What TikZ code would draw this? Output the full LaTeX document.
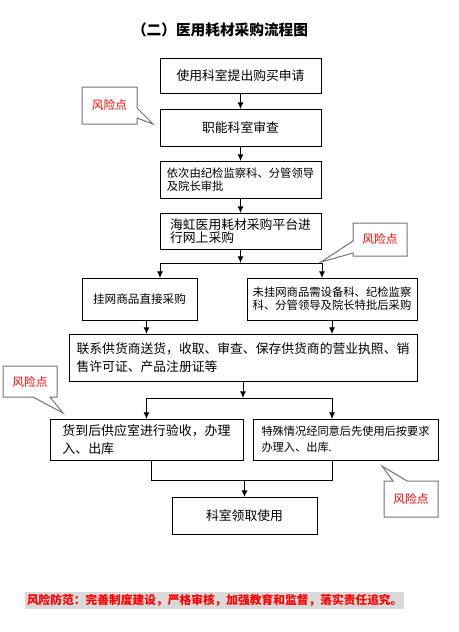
\documentclass[tikz,border=0pt]{standalone}
\usepackage{fontspec}
\setmainfont{Noto Sans CJK SC}
\usetikzlibrary{arrows.meta}

\begin{document}
\begin{tikzpicture}
[x=0.75pt,y=-0.75pt,
 >={Latex[length=5pt,width=4.5pt]},
 every node/.style={inner sep=0pt,outer sep=0pt},
 box/.style={draw=black,line width=0.75pt,rectangle,align=left,font=\fontsize{9.6}{10}\selectfont},
 risk/.style={minimum width=40.5pt,text=red,font=\fontsize{8.8}{10}\selectfont},
 rline/.style={draw=black!55,line width=0.75pt},
 line width=0.75pt]
\useasboundingbox (0,0) rectangle (458,632);

\node[font=\fontsize{11}{12}\selectfont\bfseries] (title) at (220,30) {（二）医用耗材采购流程图};

\node[box,minimum width=120.75pt,minimum height=26.25pt] (n1)  at (240.5,75.5) {使用科室提出购买申请};
\node[box,minimum width=120.75pt,minimum height=27.75pt] (n2)  at (240.5,127.5) {职能科室审查};
\node[box,minimum width=120.75pt,minimum height=27.75pt,font=\fontsize{8.5}{10}\selectfont] (n3) at (240.5,179.5) {依次由纪检监察科、分管领导\\及院长审批};
\node[box,minimum width=120.75pt,minimum height=27pt] (n4)  at (240.5,231) {海虹医用耗材采购平台进\\行网上采购};
\node[box,minimum width=86.25pt,minimum height=31.5pt,font=\fontsize{8.7}{10}\selectfont] (n5a) at (139.5,299) {挂网商品直接采购};
\node[box,minimum width=127.5pt,minimum height=31.5pt,font=\fontsize{8.5}{9.5}\selectfont] (n5b) at (332,299) {未挂网商品需设备科、纪检监察\\科、分管领导及院长特批后采购};
\node[box,minimum width=261pt,minimum height=35.25pt,font=\fontsize{9.6}{13.5}\selectfont] (n6) at (243,357.5) {联系供货商送货，收取、审查、保存供货商的营业执照、销\\售许可证、产品注册证等};
\node[box,minimum width=144.75pt,minimum height=30.75pt,font=\fontsize{9.7}{13}\selectfont] (n7a) at (146.5,439.5) {货到后供应室进行验收，办理\\入、出库};
\node[box,minimum width=138.75pt,minimum height=30.75pt,font=\fontsize{8.4}{12}\selectfont] (n7b) at (345.5,439.5) {特殊情况经同意后先使用后按要求\\办理入、出库.};
\node[box,minimum width=108.75pt,minimum height=27.75pt] (n8)  at (244.5,515.5) {科室领取使用};

\node[fill=black!15,text=red,font=\fontsize{8.8}{10}\selectfont\bfseries,inner sep=1.5pt,anchor=west] (note) at (25,600.5) {风险防范：完善制度建设，严格审核，加强教育和监督，落实责任追究。};

% main chain
\draw[->] (n1) -- (n2);
\draw[->] (n2) -- (n3);
\draw[->] (n3) -- (n4);

% first split
\coordinate (j1)  at (240.5,263);
\coordinate (j1l) at (160,263);
\coordinate (j1r) at (322,263);
\draw[->] (n4) -- (j1);
\draw (j1l) -- (j1r);
\draw[->] (j1l) -- (j1l |- n5a.north);
\draw[->] (j1r) -- (j1r |- n5b.north);
\draw[->] (n5a.south -| n7a) -- (n6.north -| n7a);
\draw[->] (n5b) -- (n5b |- n6.north);

% second split
\coordinate (j2)  at (243,398);
\coordinate (j2l) at (146.5,398);
\coordinate (j2r) at (332,398);
\draw[->] (n6) -- (j2);
\draw (j2l) -- (j2r);
\draw[->] (j2l) -- (j2l |- n7a.north);
\draw[->] (j2r) -- (j2r |- n7b.north);

% merge
\coordinate (m1l) at (151,480);
\coordinate (m1r) at (332,480);
\draw (m1l |- n7a.south) -- (m1l) -- (m1r) -- (m1r |- n7b.south);
\draw[->] (n8.north |- m1l) -- (n8);

% risk points
\node[risk,minimum width=41.25pt,minimum height=27.75pt] (rk1) at (109.5,105.5) {风险点};
\coordinate (t1) at (153,124);
\draw[rline] (rk1.north east) -- (rk1.east |- 0,108) -- (t1) -- (rk1.east |- 0,118) -- (rk1.south east) -- (rk1.south west) -- (rk1.north west) -- cycle;

\node[risk,minimum height=24.75pt] (rk2) at (380,239.5) {风险点};
\coordinate (t2) at (321,262);
\draw[rline] (rk2.north west) -- (rk2.north east) -- (rk2.south east) -- (rk2.south west) -- (rk2.west |- 0,253) -- (t2) -- (rk2.west |- 0,241) -- cycle;

\node[risk,minimum height=23.25pt] (rk3) at (30,381.5) {风险点};
\coordinate (t3) at (63,413);
\draw[rline] (rk3.north west) -- (rk3.north east) -- (rk3.south east) -- (rk3.south -| 50,0) -- (t3) -- (rk3.south -| 33,0) -- (rk3.south west) -- cycle;

\node[risk,minimum height=27pt] (rk4) at (411,499) {风险点};
\coordinate (t4) at (382,466);
\draw[rline] (rk4.north west) -- (rk4.north -| 393,0) -- (t4) -- (rk4.north -| 407,0) -- (rk4.north east) -- (rk4.south east) -- (rk4.south west) -- cycle;
\end{tikzpicture}
\end{document}
